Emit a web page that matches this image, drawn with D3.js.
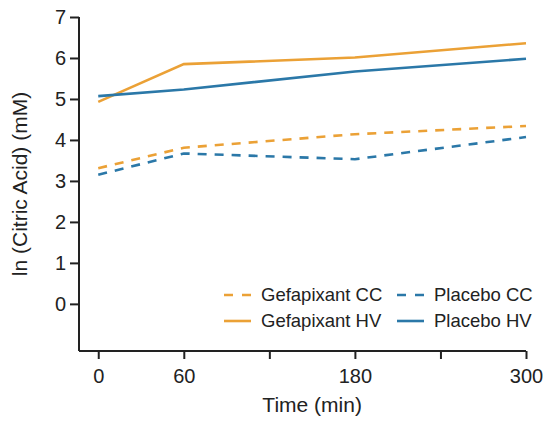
<!DOCTYPE html>
<html>
<head>
<meta charset="utf-8">
<script src="https://cdn.jsdelivr.net/npm/d3@7"></script>
<style>
  body { margin: 0; background: #fff; }
  svg { font-family: "Liberation Sans", Arial, sans-serif; }
  .axis path, .axis line { stroke: #222; stroke-width: 2px; }
  .axis text { fill: #222; font-size: 20px; }
</style>
</head>
<body>
<svg width="550" height="424"></svg>
<script>
// timepoints (min)
var times = [0, 60, 180, 300];
var xTicks = [0, 60, 120, 180, 240, 300];
var xLabels = [0, 60, 180, 300];
var yTicks = [0, 1, 2, 3, 4, 5, 6, 7];

var seriesNames = ["Gefapixant CC", "Placebo CC", "Gefapixant HV", "Placebo HV"];
var gefapixantCC = [3.31, 3.81, 4.14, 4.34];
var placeboCC = [3.15, 3.67, 3.53, 4.07];
var gefapixantHV = [4.93, 5.85, 6.01, 6.36];
var placeboHV = [5.07, 5.23, 5.67, 5.98];

var orange = "#eba136", blue = "#2b78a8";

var series = [
  {name: seriesNames[0], values: gefapixantCC, color: orange, dash: true},
  {name: seriesNames[1], values: placeboCC, color: blue, dash: true},
  {name: seriesNames[2], values: gefapixantHV, color: orange, dash: false},
  {name: seriesNames[3], values: placeboHV, color: blue, dash: false}
];

var svg = d3.select("svg"),
    margin = {top: 17, right: 24, bottom: 73, left: 79},
    width = svg.attr("width") - margin.left - margin.right,
    height = svg.attr("height") - margin.top - margin.bottom;

var x = d3.scaleLinear().domain([-13.5, 300]).range([0, width]),
    y = d3.scaleLinear().domain([-1.15, 7]).range([height, 0]);

var g = svg.append("g")
    .attr("transform", "translate(" + margin.left + "," + margin.top + ")");

// axes
var xAxis = g.append("g")
    .attr("class", "axis")
    .attr("transform", "translate(0," + height + ")")
    .call(d3.axisBottom(x).tickValues(xTicks).tickSize(8).tickPadding(10)
      .tickFormat(function(d) { return xLabels.indexOf(d) >= 0 ? d : ""; }));
xAxis.select(".domain").attr("d", "M0,0H" + width);

var yAxis = g.append("g")
    .attr("class", "axis")
    .call(d3.axisLeft(y).tickValues(yTicks).tickSize(9).tickPadding(4));
yAxis.select(".domain").attr("d", "M0,0V" + height);

g.append("text")
    .attr("x", x(150))
    .attr("y", height + 61)
    .attr("text-anchor", "middle")
    .style("font-size", "21px")
    .style("fill", "#222")
    .text("Time (min)");

g.append("text")
    .attr("transform", "translate(-52," + (height / 2) + ") rotate(-90)")
    .attr("text-anchor", "middle")
    .style("font-size", "21px")
    .style("fill", "#222")
    .text("ln (Citric Acid) (mM)");

// lines
var line = d3.line()
    .x(function(d, i) { return x(times[i]); })
    .y(function(d) { return y(d); });

g.selectAll(".series")
  .data(series)
  .enter().append("path")
    .attr("class", "series")
    .attr("fill", "none")
    .attr("stroke", function(d) { return d.color; })
    .attr("stroke-width", 2.6)
    .attr("stroke-dasharray", function(d) { return d.dash ? "9,8" : null; })
    .attr("d", function(d) { return line(d.values); });

// legend
var legendPos = [[224, 295], [397, 295], [224, 321], [397, 321]];
var leg = svg.selectAll(".legend")
  .data(series)
  .enter().append("g")
    .attr("class", "legend")
    .attr("transform", function(d, i) { return "translate(" + legendPos[i][0] + "," + legendPos[i][1] + ")"; });

leg.append("line")
    .attr("x1", 0).attr("x2", 27)
    .attr("stroke", function(d) { return d.color; })
    .attr("stroke-width", 2.6)
    .attr("stroke-dasharray", function(d) { return d.dash ? "9,9" : null; });

leg.append("text")
    .attr("x", 37)
    .attr("dy", "0.35em")
    .style("font-size", "18.5px")
    .style("fill", "#222")
    .text(function(d) { return d.name; });
</script>
</body>
</html>
